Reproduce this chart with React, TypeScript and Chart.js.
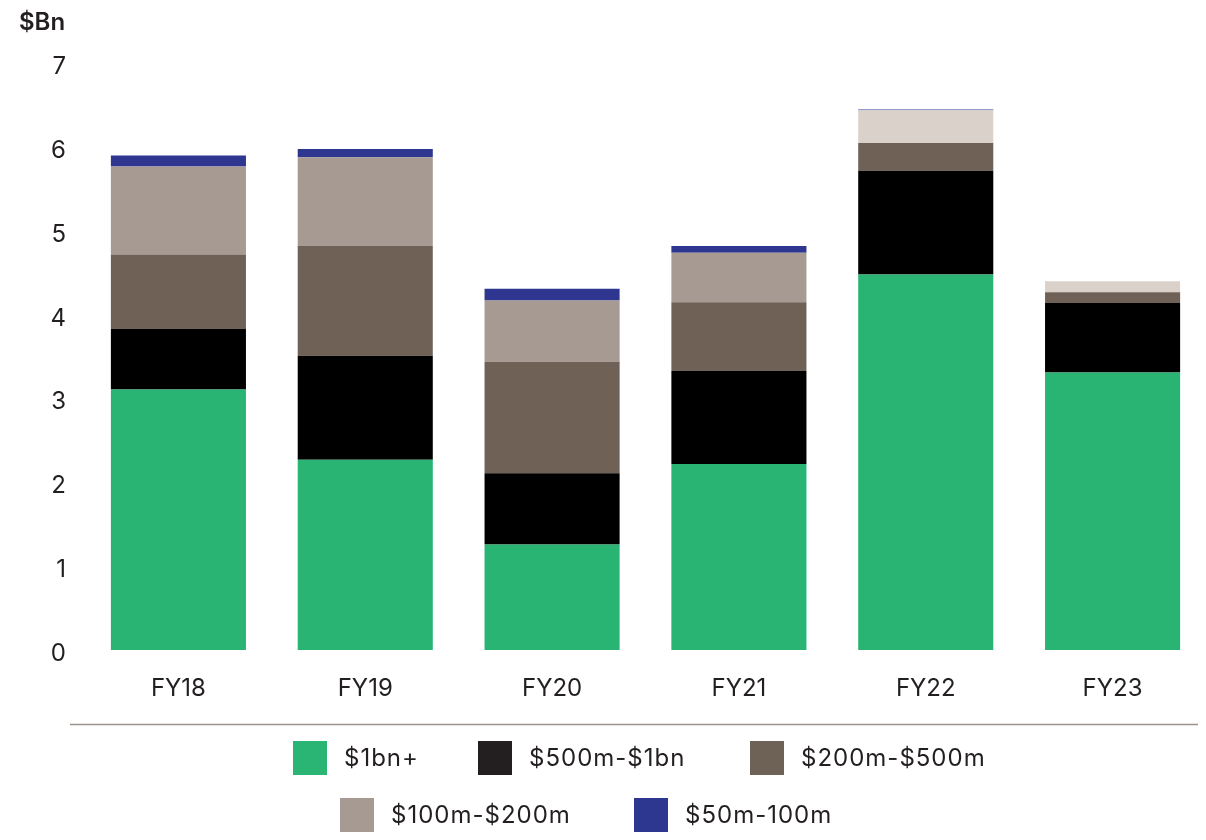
import React, { useEffect, useRef } from "react";
import { Chart, registerables } from "chart.js";

Chart.register(...registerables);

const categories = ["FY18", "FY19", "FY20", "FY21", "FY22", "FY23"];
const bn1Plus = [3.11, 2.27, 1.26, 2.22, 4.48, 3.31];
const m500to1bn = [0.72, 1.24, 0.85, 1.11, 1.24, 0.83];
const m200to500 = [0.89, 1.31, 1.33, 0.82, 0.33, 0.13];
const m100to200 = [1.05, 1.06, 0.73, 0.59, 0.39, 0.13];
const m50to100 = [0.13, 0.1, 0.14, 0.08, 0.01, 0];
const yTicks = [0, 1, 2, 3, 4, 5, 6, 7];

const FONT = "Inter, 'Noto Sans', sans-serif";
const TEXT = "#231f20";

const legendItems = [
  { label: "$1bn+", color: "#2ab574", x: 293, row: 0 },
  { label: "$500m-$1bn", color: "#231f20", x: 478, row: 0 },
  { label: "$200m-$500m", color: "#6e6156", x: 750, row: 0 },
  { label: "$100m-$200m", color: "#a69a92", x: 340, row: 1 },
  { label: "$50m-100m", color: "#2e3790", x: 634, row: 1 },
];

const decorPlugin = {
  id: "decor",
  afterDraw(chart: any) {
    const ctx = chart.ctx;
    ctx.save();
    // unit title
    ctx.fillStyle = TEXT;
    ctx.font = `600 24px ${FONT}`;
    ctx.textAlign = "left";
    ctx.textBaseline = "alphabetic";
    ctx.fillText("$Bn", 19, 30);
    // separator
    ctx.strokeStyle = "#9a938e";
    ctx.lineWidth = 1.5;
    ctx.beginPath();
    ctx.moveTo(70, 724.5);
    ctx.lineTo(1198, 724.5);
    ctx.stroke();
    // legend
    const rowCenters = [758, 815];
    ctx.font = `400 24px ${FONT}`;
    try {
      ctx.letterSpacing = "1px";
    } catch (e) {}
    ctx.textBaseline = "middle";
    legendItems.forEach((it) => {
      const cy = rowCenters[it.row];
      ctx.fillStyle = it.color;
      ctx.fillRect(it.x, cy - 17, 34, 34);
      ctx.fillStyle = TEXT;
      ctx.fillText(it.label, it.x + 51, cy + 1);
    });
    ctx.restore();
  },
};

export default function App() {
  const ref = useRef<HTMLCanvasElement | null>(null);
  useEffect(() => {
    document.body.style.margin = "0";
    const canvas = ref.current;
    if (!canvas) return;
    const light = "#a69a92";
    const lighter = "#dad1cb";
    const chart = new Chart(canvas, {
      type: "bar",
      data: {
        labels: categories,
        datasets: [
          { label: "$1bn+", data: bn1Plus, backgroundColor: "#29b473" },
          { label: "$500m-$1bn", data: m500to1bn, backgroundColor: "#000000" },
          { label: "$200m-$500m", data: m200to500, backgroundColor: "#6f6155" },
          {
            label: "$100m-$200m",
            data: m100to200,
            backgroundColor: [light, light, light, light, lighter, lighter],
          },
          { label: "$50m-100m", data: m50to100, backgroundColor: "#2e368f" },
        ],
      },
      options: {
        responsive: false,
        animation: false,
        devicePixelRatio: 1,
        layout: { padding: { top: 63.4, left: 0, right: 0, bottom: 120 } },
        plugins: {
          legend: { display: false },
          tooltip: { enabled: false },
        },
        datasets: {
          bar: { categoryPercentage: 1, barPercentage: 0.723, borderWidth: 0 },
        },
        scales: {
          x: {
            stacked: true,
            grid: { display: false, drawTicks: false },
            border: { display: false },
            ticks: {
              color: TEXT,
              font: { family: FONT, size: 24 },
              padding: 24,
            },
            afterFit: (s: any) => {
              s.height = 70;
            },
          },
          y: {
            stacked: true,
            min: 0,
            max: 7,
            grid: { display: false, drawTicks: false },
            border: { display: false },
            afterBuildTicks: (s: any) => {
              s.ticks = yTicks.map((v) => ({ value: v }));
            },
            ticks: {
              color: TEXT,
              font: { family: FONT, size: 24 },
              padding: 19,
              labelOffset: 3.5,
            },
            afterFit: (s: any) => {
              s.width = 85;
            },
          },
        },
      },
      plugins: [decorPlugin],
    });
    return () => chart.destroy();
  }, []);
  return (
    <div style={{ width: 1206, height: 840, background: "#fff" }}>
      <canvas ref={ref} width={1206} height={840} style={{ display: "block" }} />
    </div>
  );
}
